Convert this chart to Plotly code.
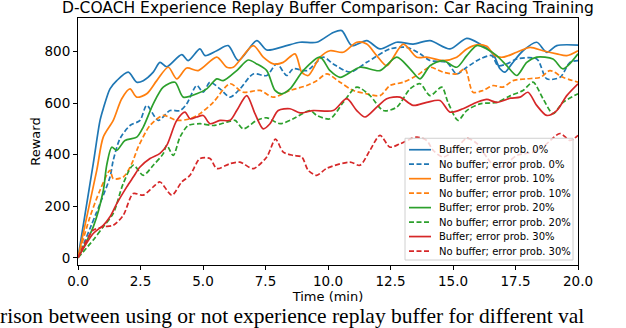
import plotly.graph_objects as go

# ---- data ----
t_b0 = [0, 0.61, 0.88, 1.01, 1.28, 1.55, 2.01, 2.35, 2.61, 3.01, 3.28, 3.55, 4.15, 4.41, 4.88, 5.08, 5.55, 6.01, 6.41, 7.15, 7.55, 8.21, 8.88, 9.55, 10.21, 10.55, 10.95, 11.55, 12.08, 12.75, 13.41, 14.08, 14.88, 15.55, 16.08, 16.6, 16.88, 17.08, 17.35, 17.8, 18.35, 18.75, 19.15, 20]
v_b0 = [0, 365, 532, 578, 655, 687, 720, 681, 687, 720, 758, 741, 788, 765, 810, 784, 803, 823, 765, 842, 806, 819, 836, 836, 874, 881, 823, 842, 810, 836, 829, 842, 810, 851, 829, 791, 733, 720, 752, 803, 836, 797, 823, 825]

t_n0 = [0, 0.88, 1.28, 1.41, 1.68, 2.08, 2.48, 2.75, 3.21, 3.68, 4.08, 4.35, 4.75, 5.01, 5.28, 5.68, 6.08, 6.48, 7.01, 7.55, 7.95, 8.35, 8.61, 9.15, 9.81, 10.21, 10.88, 11.55, 12.48, 13.15, 13.68, 14.08, 14.75, 15.15, 15.55, 16.08, 16.55, 16.8, 17.15, 17.55, 18.35, 18.75, 19.28, 19.68, 20]
v_n0 = [0, 210, 313, 378, 462, 513, 533, 591, 533, 571, 571, 597, 668, 642, 681, 655, 623, 655, 713, 707, 752, 707, 733, 726, 778, 752, 720, 758, 810, 816, 791, 765, 758, 713, 739, 771, 784, 745, 752, 771, 771, 694, 700, 758, 765]

t_b10 = [0, 0.75, 1.01, 1.41, 1.75, 2.08, 2.35, 2.75, 3.15, 3.61, 3.95, 4.35, 4.81, 5.55, 5.95, 6.21, 7.01, 7.41, 7.81, 8.21, 8.68, 8.95, 9.21, 9.68, 10.08, 10.61, 11.15, 11.55, 11.95, 12.35, 13.01, 13.55, 13.95, 14.6, 15.15, 15.55, 15.95, 16.35, 16.68, 17.0, 17.55, 18.08, 18.6, 19.15, 19.55, 20]
v_b10 = [0, 339, 468, 533, 617, 655, 623, 636, 687, 739, 694, 736, 726, 778, 739, 739, 823, 778, 752, 758, 791, 720, 707, 778, 803, 797, 836, 829, 784, 745, 829, 778, 778, 765, 778, 810, 826, 820, 784, 778, 797, 816, 803, 791, 784, 803]

t_n10 = [0, 0.48, 0.88, 1.28, 1.41, 1.81, 2.15, 2.41, 2.88, 3.41, 3.95, 4.48, 4.88, 5.41, 6.08, 6.61, 7.28, 7.81, 8.48, 9.15, 9.55, 9.95, 10.48, 11.01, 11.55, 12.08, 12.48, 13.01, 13.55, 14.08, 14.6, 15.15, 15.48, 15.8, 16.2, 16.6, 17.0, 17.4, 17.95, 18.5, 18.88, 19.4, 20]
v_n10 = [0, 159, 262, 339, 307, 313, 365, 430, 513, 552, 533, 539, 559, 603, 675, 642, 649, 623, 649, 668, 687, 713, 681, 649, 636, 629, 668, 681, 707, 739, 720, 713, 733, 642, 649, 668, 662, 687, 694, 700, 726, 700, 681]

t_b20 = [0, 0.61, 1.01, 1.15, 1.35, 1.55, 1.88, 2.35, 2.61, 3.01, 3.41, 3.88, 4.21, 4.75, 5.15, 5.55, 5.81, 6.35, 6.81, 7.15, 7.55, 7.88, 8.15, 8.48, 9.01, 9.68, 10.08, 10.48, 11.28, 12.08, 12.75, 13.28, 13.68, 14.08, 14.6, 15.15, 15.55, 15.95, 16.35, 16.75, 17.15, 17.55, 17.95, 18.35, 19.0, 19.4, 20]
v_b20 = [0, 120, 260, 360, 429, 417, 455, 468, 507, 597, 662, 681, 623, 636, 655, 694, 687, 726, 767, 752, 726, 649, 636, 655, 726, 778, 726, 700, 739, 726, 778, 733, 694, 745, 765, 739, 784, 823, 810, 784, 745, 707, 758, 778, 771, 733, 791]

t_n20 = [0, 0.61, 1.01, 1.41, 1.81, 2.21, 2.61, 3.01, 3.41, 3.55, 3.81, 4.08, 4.41, 4.88, 5.41, 5.95, 6.28, 6.61, 7.15, 7.55, 8.08, 8.61, 9.28, 9.55, 10.08, 10.61, 11.15, 11.68, 12.21, 12.75, 13.28, 13.68, 14.08, 14.55, 14.8, 15.2, 15.55, 16.08, 16.75, 17.3, 17.8, 18.2, 18.6, 19.0, 19.4, 20]
v_n20 = [0, 69, 120, 172, 288, 359, 320, 359, 404, 436, 397, 468, 513, 520, 513, 526, 533, 500, 533, 543, 520, 539, 571, 552, 539, 603, 662, 629, 571, 584, 655, 675, 629, 662, 603, 533, 571, 597, 603, 629, 649, 681, 617, 559, 603, 636]

t_b30 = [0, 0.61, 1.01, 1.28, 1.55, 1.95, 2.21, 2.48, 2.88, 3.28, 3.55, 3.95, 4.28, 4.48, 4.75, 5.01, 5.28, 5.68, 6.08, 6.35, 6.75, 7.08, 7.41, 7.68, 8.01, 8.48, 8.88, 9.41, 10.21, 10.75, 11.15, 11.48, 11.95, 12.35, 12.88, 13.41, 13.95, 14.48, 14.88, 15.4, 15.95, 16.35, 16.75, 17.3, 17.68, 18.0, 18.35, 18.75, 19.15, 19.55, 20]
v_b30 = [0, 94, 126, 159, 210, 275, 313, 352, 385, 405, 436, 533, 565, 539, 546, 552, 520, 533, 533, 571, 629, 559, 500, 520, 571, 578, 562, 571, 571, 617, 571, 546, 584, 617, 623, 591, 603, 610, 565, 578, 603, 614, 603, 619, 623, 642, 591, 552, 571, 629, 675]

t_n30 = [0, 0.21, 0.61, 1.01, 1.41, 1.81, 2.21, 2.61, 3.01, 3.28, 3.75, 4.15, 4.48, 4.88, 5.28, 5.55, 6.08, 6.48, 7.01, 7.55, 7.9, 8.21, 8.61, 8.95, 9.21, 9.55, 9.95, 10.88, 11.28, 11.68, 12.08, 12.48, 12.88, 13.55, 13.95, 14.2, 14.6, 15.1, 15.55, 15.95, 16.35, 16.75, 17.2, 17.55, 18.2, 18.6, 19.28, 19.68, 20]
v_n30 = [0, 43, 107, 120, 126, 165, 249, 243, 275, 294, 243, 294, 320, 385, 385, 346, 365, 371, 346, 391, 460, 410, 397, 391, 339, 320, 347, 371, 359, 417, 475, 429, 442, 468, 455, 417, 391, 420, 463, 444, 390, 347, 370, 397, 410, 430, 482, 455, 475]

series_names = [
    "Buffer; error prob. 0%", "No buffer; error prob. 0%",
    "Buffer; error prob. 10%", "No buffer; error prob. 10%",
    "Buffer; error prob. 20%", "No buffer; error prob. 20%",
    "Buffer; error prob. 30%", "No buffer; error prob. 30%",
]
series_t = [t_b0, t_n0, t_b10, t_n10, t_b20, t_n20, t_b30, t_n30]
series_v = [v_b0, v_n0, v_b10, v_n10, v_b20, v_n20, v_b30, v_n30]
colors = ["#1f77b4", "#1f77b4", "#ff7f0e", "#ff7f0e", "#2ca02c", "#2ca02c", "#d62728", "#d62728"]
dashes = ["solid", "5px,2.5px"] * 4

x_ticks = [0, 2.5, 5, 7.5, 10, 12.5, 15, 17.5, 20]
y_ticks = [0, 200, 400, 600, 800]

title_text = "D-COACH Experience Replay Buffer Comparison: Car Racing Training"
x_title = "Time (min)"
y_title = "Reward"
caption = "rison between using or not experience replay buffer for different val"

# ---- layout geometry (pixels) ----
W, H = 626, 328
L, R, T, B = 78, 48, 17.5, 63
PW, PH = W - L - R, H - T - B


def px(xp):
    return (xp - L) / PW


def py(yp):
    return (H - B - yp) / PH


fig = go.Figure()
for name, t, v, c, d in zip(series_names, series_t, series_v, colors, dashes):
    fig.add_trace(go.Scatter(
        x=t, y=v, name=name, mode="lines", showlegend=False, hoverinfo="skip",
        line=dict(color=c, width=1.7, dash=d, shape="spline", smoothing=0.8),
    ))

font_family = "DejaVu Sans"

# ---- legend (matplotlib-like, compact rows) ----
leg_left, leg_right, leg_top, leg_bottom = 405, 573, 138, 260
row0, row_step = 149.5, 14.5
shapes = [dict(type="rect", xref="paper", yref="paper", layer="above",
               x0=px(leg_left), x1=px(leg_right), y0=py(leg_bottom), y1=py(leg_top),
               fillcolor="rgba(255,255,255,0.8)", line=dict(color="#d0d0d0", width=1))]
annotations = []
for i, (name, c, d) in enumerate(zip(series_names, colors, dashes)):
    yc = row0 + i * row_step
    shapes.append(dict(type="line", xref="paper", yref="paper", layer="above",
                       x0=px(409), x1=px(431), y0=py(yc), y1=py(yc),
                       line=dict(color=c, width=1.7, dash=d)))
    annotations.append(dict(text=name, xref="paper", yref="paper", x=px(437), y=py(yc),
                            xanchor="left", yanchor="middle", showarrow=False,
                            font=dict(size=10, family=font_family, color="black")))

annotations.append(dict(
    text=caption, xref="paper", yref="paper",
    x=px(-1), y=py(329), xanchor="left", yanchor="bottom", borderpad=0,
    showarrow=False, font=dict(family="Liberation Serif", size=21.5, color="black"),
))

fig.update_layout(
    width=W, height=H,
    margin=dict(l=L, r=R, t=T, b=B, autoexpand=False),
    paper_bgcolor="white", plot_bgcolor="white",
    font=dict(family=font_family, color="black", size=13),
    title=dict(text=title_text, x=0.5, xref="paper", xanchor="center",
               y=1 - 7.5 / H, yref="container", yanchor="middle",
               font=dict(size=15.5, family=font_family, color="black")),
    showlegend=False,
    hovermode=False,
    shapes=shapes,
    annotations=annotations,
)
fig.update_xaxes(
    range=[0, 20], tickvals=x_ticks, tickformat=".1f", automargin=False,
    showline=True, linecolor="black", linewidth=1, mirror=True,
    ticks="outside", ticklen=4, tickcolor="black", showgrid=False, zeroline=False,
    tickfont=dict(size=13.5),
    title=dict(text=x_title, font=dict(size=13), standoff=0),
)
fig.update_yaxes(
    range=[-28, 930], tickvals=y_ticks, automargin=False,
    showline=True, linecolor="black", linewidth=1, mirror=True,
    ticks="outside", ticklen=4, tickcolor="black", showgrid=False, zeroline=False,
    tickfont=dict(size=13.5),
    title=dict(text=y_title, font=dict(size=13), standoff=0),
)
fig.write_html(
    "out.html",
    config={"displayModeBar": False},
    post_script="document.body.style.margin='0';document.body.style.padding='0';",
)
